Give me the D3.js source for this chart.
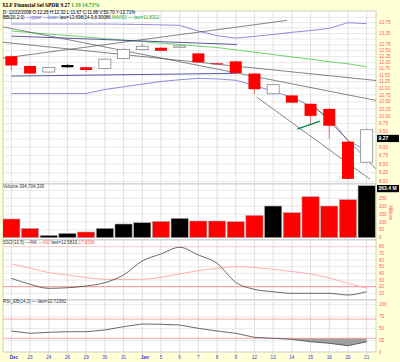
<!DOCTYPE html>
<html lang="en">
<head>
<meta charset="utf-8">
<title>XLF Financial Sel SPDR</title>
<script src="https://d3js.org/d3.v7.min.js"></script>
<style>
  body { margin: 0; background: #ffffd8; }
  svg { display: block; font-family: "Liberation Sans", Arial, sans-serif; }
</style>
</head>
<body>
<div class="chart"></div>
<script>
// ---- data ----
const dates = ["Dec","23","24","26","29","30","31","Jan","5","6","7","8","9","12","13","14","15","16","20","21"];
const open  = [12.26,11.86,11.62,11.90,11.81,11.76,12.17,12.55,12.62,12.64,12.38,11.97,12.05,11.56,10.79,10.73,10.43,10.25,9.17,8.55];
const high  = [12.32,11.88,11.82,11.93,11.83,12.16,12.60,12.80,12.66,12.72,12.40,12.00,12.07,11.58,11.15,10.75,10.45,10.27,9.19,9.58];
const low   = [11.67,11.54,11.60,11.79,11.62,11.74,12.15,12.53,12.47,12.62,11.99,11.94,11.56,10.79,10.77,10.45,9.74,9.25,8.06,8.53];
const close = [11.88,11.56,11.80,11.81,11.70,12.14,12.55,12.68,12.49,12.70,12.01,11.96,11.58,10.96,11.13,10.47,10.01,9.68,8.08,9.55];
const lastPrice = 9.27;
const volume = [118.7,59,14.6,27.3,36.2,59,86.9,95.2,103.4,122.5,106,106,101.5,141.5,201,158.6,260,201,241,363.4];
const bbUpper = [13.68,13.68,13.68,13.68,13.68,13.68,13.67,13.66,13.64,13.62,13.36,13.15,13.04,13.12,13.20,13.30,13.38,13.48,13.74,13.698];
const bbLower = [10.80,10.80,10.80,10.80,10.80,10.95,11.05,11.15,11.25,11.32,11.37,11.35,11.30,11.10,10.88,10.66,10.36,9.95,9.20,8.90];
const ma50    = [13.36,13.29,13.22,13.16,13.09,13.02,12.95,12.89,12.82,12.76,12.69,12.63,12.53,12.43,12.33,12.23,12.14,12.03,11.95,11.83];
const stochK  = [32.5,23.5,17.5,18.4,21,26,37.5,58.5,69,79,67.5,55,26.5,16,12.4,10,10,10,7.5,12.58];
const stochD  = [54,48,41,37.5,33.7,31,30.7,31,34,39,44,47.5,50,48.7,46,42.7,39,33,25,17.83];
const rsi     = [45.2,40.4,42.5,43.7,43.7,47.3,54.2,59.8,59.2,57.7,50.8,45.2,40.4,32,30,27.9,22.9,19.6,14.6,22.72];
// drawn lines: [startIndex, startPrice, endIndex, endPrice]
const grayLines  = [[-0.45,12.18,14.74,13.85],[-0.45,12.86,19.5,11.29],[-0.45,13.55,19.5,10.55],[13.12,10.67,19.18,8.07],[16.13,10.40,19.5,8.36]];
const navyLines  = [[0,13.13,12.07,12.76],[0,11.46,12.07,11.57]];
const greenLines = [[15.29,9.57,16.5,9.83]];
const priceTicks = [13.75,13.25,12.75,12.50,12.25,12.00,11.75,11.50,11.25,11.00,10.75,10.50,10.25,10.00,9.75,9.50,9.00,8.75,8.50,8.25,8.00];
const priceGrid  = d3.range(8, 14.01, 0.25);
const volTicks   = [0,50,100,150,200,250];
const stochTicks = [10,20,30,40,50,60,70,80];
const rsiTicks   = [0,25,50,75,100];

// ---- layout ----
const W = 400, H = 362, L = 3, R = 376;
const P = {price:[11,184], vol:[184,240], sto:[240,300], rsi:[300,352]};

const svg = d3.select(".chart").append("svg").attr("width", W).attr("height", H);

const x = d3.scaleBand().domain(d3.range(dates.length)).range([2, R]).paddingInner(0.08).paddingOuter(0.04);
const bw = x.bandwidth();
const cx = i => x(i) + bw / 2;
const xi = d3.scaleLinear().domain([0, dates.length - 1]).range([cx(0), cx(dates.length - 1)]);

const yP = d3.scaleLog().domain([7.94, 14.30]).range([P.price[1], P.price[0]]);
const yV = d3.scaleLinear().domain([0, 330]).range([237.7, 185.7]).clamp(true);
const yS = d3.scaleLinear().domain([0, 100]).range([300, 233.3]);
const yR = d3.scaleLinear().domain([0, 100]).range([352.7, 304.7]);

// panels
Object.values(P).forEach(p => {
  svg.append("rect").attr("x", L).attr("y", p[0]).attr("width", R - L).attr("height", p[1] - p[0])
    .attr("fill", "#fff").attr("stroke", "#b0b0b0").attr("stroke-width", 0.6);
});

const defs = svg.append("defs");
Object.entries(P).forEach(([k, p]) => {
  defs.append("clipPath").attr("id", "clip-" + k).append("rect")
    .attr("x", L).attr("y", p[0]).attr("width", R - L).attr("height", p[1] - p[0]);
});

// vertical grid
svg.append("g").selectAll("line").data(d3.range(dates.length)).join("line")
  .attr("x1", cx).attr("x2", cx).attr("y1", P.price[0]).attr("y2", 355)
  .attr("stroke", "#d4d4d4").attr("stroke-width", 0.7);

// horizontal grids
function hgrid(vals, scale, panel, color) {
  svg.append("g").attr("clip-path", `url(#clip-${panel})`).selectAll("line").data(vals).join("line")
    .attr("x1", L).attr("x2", R).attr("y1", d => scale(d)).attr("y2", d => scale(d))
    .attr("stroke", color || "#dcdcdc").attr("stroke-width", 0.6);
}
hgrid(priceGrid, yP, "price");
hgrid([50,100,150,200,250,300], yV, "vol");
hgrid(stochTicks, yS, "sto");
hgrid(rsiTicks, yR, "rsi");

// ---- price panel ----
const gp = svg.append("g").attr("clip-path", "url(#clip-price)");
const lineIdx = (arr) => d3.line().x((d, i) => cx(i)).y(d => yP(d))(arr);
gp.append("path").attr("d", lineIdx(ma50)).attr("fill", "none").attr("stroke", "#44cc44").attr("stroke-width", 0.8);
gp.append("path").attr("d", lineIdx(bbUpper)).attr("fill", "none").attr("stroke", "#7070d0").attr("stroke-width", 0.8);
gp.append("path").attr("d", lineIdx(bbLower)).attr("fill", "none").attr("stroke", "#7070d0").attr("stroke-width", 0.8);

function segs(list, color, w) {
  gp.append("g").selectAll("line").data(list).join("line")
    .attr("x1", d => xi(d[0])).attr("y1", d => yP(d[1]))
    .attr("x2", d => xi(d[2])).attr("y2", d => yP(d[3]))
    .attr("stroke", color).attr("stroke-width", w);
}
segs(navyLines, "#303090", 0.8);
segs(grayLines, "#505050", 0.7);
segs(greenLines, "#008844", 1.4);

const cw = 12;
const isUp = close.map((c, i) => i > 0 && c >= close[i - 1]);
const col = i => isUp[i] ? "#000" : "#ff0000";
const candles = gp.append("g").selectAll("g").data(d3.range(dates.length)).join("g");
candles.append("line")
  .attr("x1", cx).attr("x2", cx).attr("y1", i => yP(high[i])).attr("y2", i => yP(low[i]))
  .attr("stroke", i => close[i] >= open[i] ? "#888" : (isUp[i] ? "#000" : "#ff5050")).attr("stroke-width", 0.8);
candles.append("rect")
  .attr("x", i => cx(i) - cw / 2).attr("width", cw)
  .attr("y", i => yP(Math.max(open[i], close[i])))
  .attr("height", i => Math.max(1, Math.abs(yP(open[i]) - yP(close[i]))))
  .attr("fill", i => close[i] >= open[i] ? "#fff" : col(i))
  .attr("stroke", i => close[i] >= open[i] ? "#888" : col(i))
  .attr("stroke-width", i => close[i] >= open[i] ? 0.8 : 0);

// header text
const hdr = svg.append("text").attr("x", 2).attr("y", 6.5).attr("font-size", 5.4).attr("font-weight", "bold")
  .attr("font-family", "'Liberation Serif', serif");
hdr.append("tspan").text("XLF Financial Sel SPDR  9.27  ");
hdr.append("tspan").attr("fill", "#1aa01a").text("1.19  14.73%");
svg.append("text").attr("x", 3).attr("y", 14).attr("font-size", 4.5)
  .text("D: 12/22/2008 O:12.26 H:12.32 L:11.67 C:11.88 V:50.70 Y:13.71%");
const bbT = svg.append("text").attr("x", 3).attr("y", 18.6).attr("font-size", 4.5);
bbT.append("tspan").text("BB(20,2.0) ");
bbT.append("tspan").attr("fill", "#5050c0").text("\u2014upper \u2014lower ");
bbT.append("tspan").text("last=13.698(14.9,8.90086 ");
bbT.append("tspan").attr("fill", "#22aa22").text("MA(50) \u2014 last=11.8312");

// ---- volume panel ----
svg.append("g").attr("clip-path", "url(#clip-vol)").selectAll("rect").data(volume).join("rect")
  .attr("x", (d, i) => x(i)).attr("width", bw)
  .attr("y", d => yV(d)).attr("height", d => yV(0) - yV(d))
  .attr("fill", (d, i) => col(i)).attr("stroke", "#a8a8a8").attr("stroke-width", 0.6);
svg.append("text").attr("x", 3).attr("y", 188.3).attr("font-size", 4.5).attr("fill", "#333").text("Volume 394,704,336");

// ---- stochastics ----
const gs = svg.append("g").attr("clip-path", "url(#clip-sto)");
[[80, "#ffc8c8"], [20, "#ff8080"]].forEach(([v, c]) => {
  gs.append("line").attr("x1", L).attr("x2", R).attr("y1", yS(v)).attr("y2", yS(v)).attr("stroke", c).attr("stroke-width", 0.8);
});
const lineS = d3.line().x((d, i) => cx(i)).y(d => yS(d)).curve(d3.curveMonotoneX);
gs.append("path").attr("d", lineS(stochD)).attr("fill", "none").attr("stroke", "#ff9a9a").attr("stroke-width", 0.8);
gs.append("path").attr("d", lineS(stochK)).attr("fill", "none").attr("stroke", "#444").attr("stroke-width", 0.8);
const sT = svg.append("text").attr("x", 3).attr("y", 243.6).attr("font-size", 4.5).attr("fill", "#333");
sT.append("tspan").text("SSO(10,5) \u2014%K ");
sT.append("tspan").attr("fill", "#ff6060").text("\u2014%D ");
sT.append("tspan").text("last=12.5819,");
sT.append("tspan").attr("fill", "#ff6060").text("17.8296");

// ---- RSI ----
const gr = svg.append("g").attr("clip-path", "url(#clip-rsi)");
gr.append("path")
  .attr("d", d3.area().x((d, i) => cx(i)).y0(yR(30)).y1(d => yR(Math.min(d, 30)))(rsi))
  .attr("fill", "#a0a0a0");
[70, 30].forEach(v => {
  gr.append("line").attr("x1", L).attr("x2", R).attr("y1", yR(v)).attr("y2", yR(v)).attr("stroke", "#ff9090").attr("stroke-width", 0.8);
});
gr.append("path").attr("d", d3.line().x((d, i) => cx(i)).y(d => yR(d))(rsi))
  .attr("fill", "none").attr("stroke", "#444").attr("stroke-width", 0.8);
svg.append("text").attr("x", 3).attr("y", 302.6).attr("font-size", 4.5).attr("fill", "#333")
  .text("RSI_EB(14,2) \u2014 last=22.72382");

// ---- right axis labels ----
const axisCol = "#ff5a5a";
function rlabels(vals, scale, fmt) {
  svg.append("g").selectAll("text").data(vals).join("text")
    .attr("x", 379).attr("y", d => scale(d)).attr("dy", "0.35em")
    .attr("font-size", 4.6).attr("fill", axisCol).text(fmt);
}
rlabels(priceTicks, yP, d3.format(".2f"));
rlabels(volTicks, yV, d => d);
rlabels(stochTicks, yS, d => d);
rlabels(rsiTicks, yR, d => d);

function tag(y, label) {
  svg.append("rect").attr("x", 377).attr("y", y - 3.6).attr("width", 22).attr("height", 7.2).attr("fill", "#000");
  svg.append("text").attr("x", 378.5).attr("y", y).attr("dy", "0.35em").attr("font-size", 5)
    .attr("font-weight", "bold").attr("fill", "#fff").text(label);
}
tag(yP(lastPrice), lastPrice.toFixed(2));
tag(188.6, volume[volume.length - 1].toFixed(1) + " M");

svg.append("text").attr("transform", "translate(389,205) rotate(90)").attr("font-size", 4.6)
  .attr("fill", axisCol).text("Millions");

// ---- date axis ----
svg.append("g").selectAll("text").data(dates).join("text")
  .attr("x", (d, i) => cx(i) + (isNaN(+d) ? 2.5 : 0)).attr("y", 359.2)
  .attr("text-anchor", "middle").attr("font-size", 4.6)
  .attr("font-weight", d => isNaN(+d) ? "bold" : "normal")
  .attr("fill", "#3535d0").text(d => d);
</script>
</body>
</html>
